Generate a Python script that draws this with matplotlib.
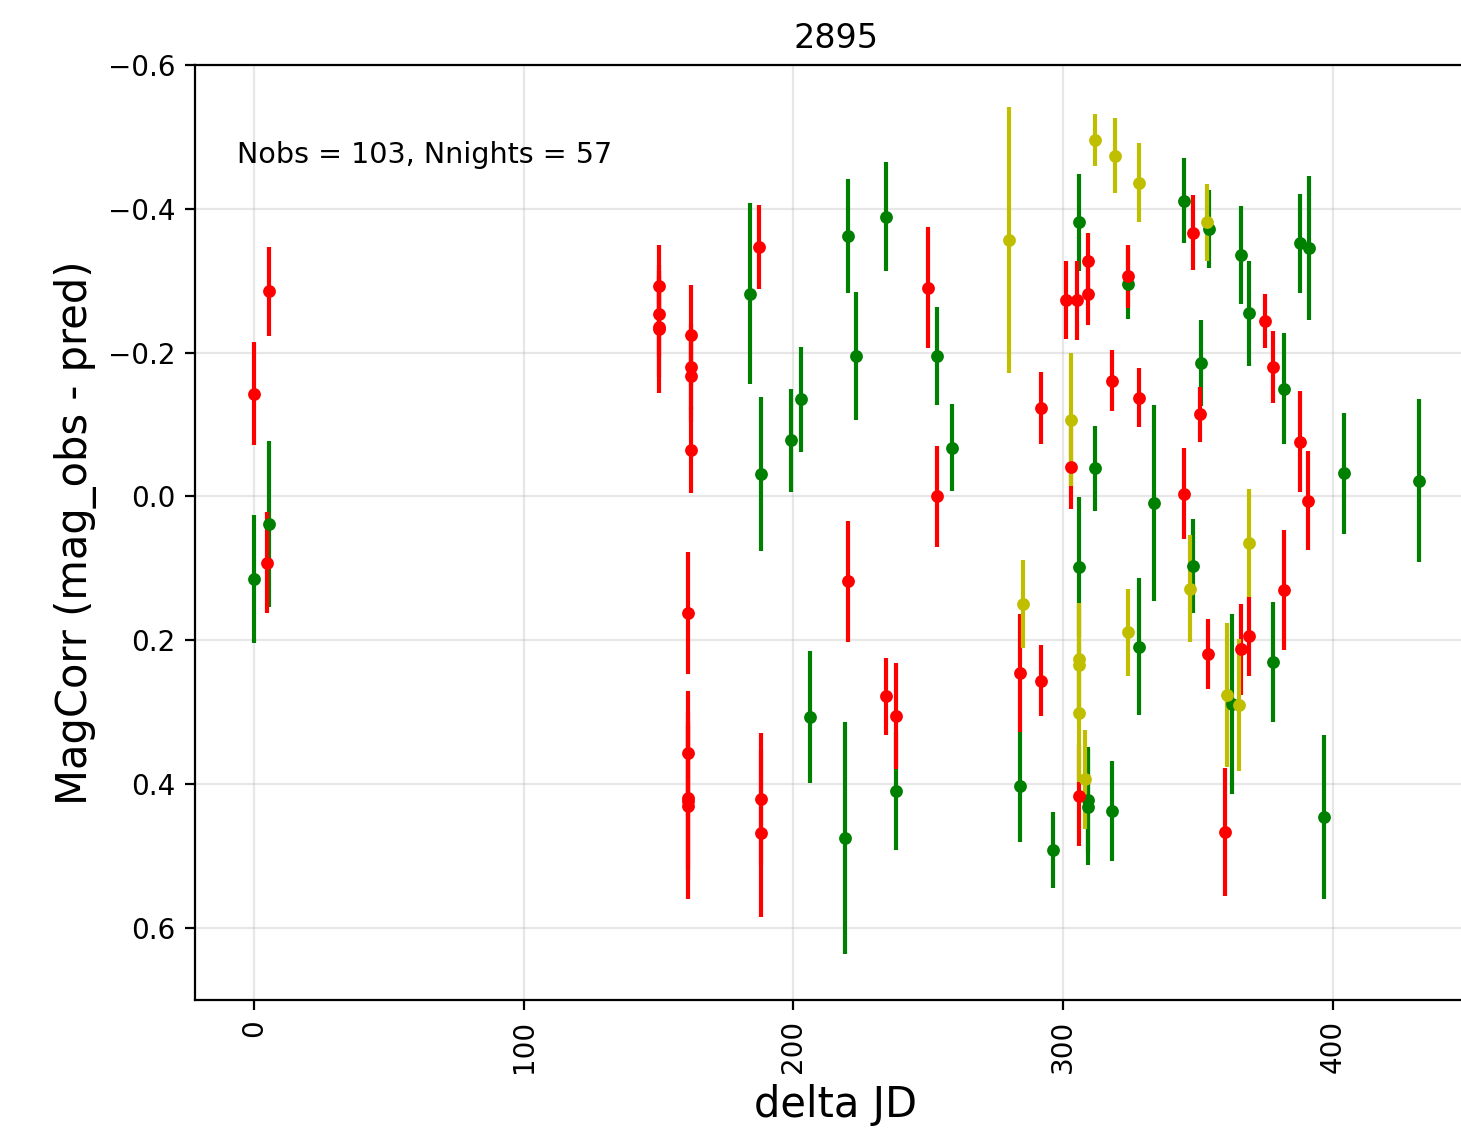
import matplotlib
matplotlib.use("Agg")
import matplotlib.pyplot as plt

# green points: delta JD, MagCorr, error
g_jd = [0.0, 5.8, 184.0, 188.2, 199.2, 203.0, 206.1, 219.1, 220.2, 223.2,
        234.3, 238.1, 253.1, 259.0, 284.1, 296.1, 306.0, 306.0, 309.1, 309.1,
        312.0, 318.1, 323.9, 328.1, 333.9, 344.8, 348.0, 351.1, 354.0, 362.7,
        365.8, 369.0, 377.9, 382.0, 387.9, 391.1, 396.9, 404.0, 431.8]
g_mag = [0.115, 0.038, -0.282, -0.031, -0.078, -0.135, 0.307, 0.475, -0.362, -0.195,
         -0.389, 0.409, -0.195, -0.068, 0.403, 0.492, -0.381, 0.098, 0.422, 0.432,
         -0.039, 0.4375, -0.296, 0.209, 0.009, -0.411, 0.097, -0.186, -0.372, 0.289,
         -0.336, -0.255, 0.230, -0.150, -0.352, -0.346, 0.445, -0.032, -0.022]
g_err = [0.089, 0.115, 0.126, 0.107, 0.072, 0.073, 0.092, 0.161, 0.079, 0.089,
         0.076, 0.082, 0.068, 0.061, 0.078, 0.053, 0.068, 0.097, 0.073, 0.081,
         0.059, 0.070, 0.049, 0.095, 0.136, 0.059, 0.065, 0.060, 0.054, 0.125,
         0.068, 0.073, 0.083, 0.077, 0.069, 0.100, 0.114, 0.084, 0.113]

# red points
r_jd = [0.0, 4.7, 5.7, 150.1, 150.1, 150.1, 150.1, 161.1, 161.1, 161.1,
        161.1, 161.1, 162.1, 162.1, 162.1, 162.1, 187.1, 188.2, 188.2, 220.2,
        234.3, 238.1, 250.0, 253.1, 284.1, 292.0, 292.0, 301.0, 302.9, 305.1,
        306.0, 309.1, 309.1, 318.2, 323.9, 328.1, 344.8, 348.0, 350.7, 353.9,
        360.1, 365.8, 368.8, 374.9, 378.0, 382.0, 387.9, 391.0]
r_mag = [-0.143, 0.092, -0.285, -0.293, -0.254, -0.236, -0.233, 0.162, 0.357, 0.419,
         0.423, 0.430, -0.224, -0.180, -0.168, -0.065, -0.347, 0.421, 0.468, 0.118,
         0.278, 0.305, -0.290, 0.000, 0.245, -0.123, 0.256, -0.273, -0.041, -0.273,
         0.416, -0.327, -0.282, -0.161, -0.306, -0.137, -0.004, -0.367, -0.114, 0.219,
         0.466, 0.2125, 0.194, -0.244, -0.180, 0.130, -0.076, 0.006]
r_err = [0.072, 0.070, 0.0625, 0.056, 0.060, 0.070, 0.089, 0.085, 0.087, 0.100,
         0.110, 0.130, 0.070, 0.060, 0.065, 0.060, 0.058, 0.092, 0.116, 0.084,
         0.054, 0.074, 0.084, 0.070, 0.082, 0.050, 0.049, 0.054, 0.058, 0.055,
         0.070, 0.040, 0.044, 0.042, 0.044, 0.041, 0.063, 0.052, 0.038, 0.049,
         0.089, 0.063, 0.056, 0.037, 0.050, 0.084, 0.070, 0.069]

# yellow points
y_jd = [280.0, 285.1, 302.9, 306.0, 306.0, 306.0, 308.3, 312.0, 319.1, 323.9,
        328.1, 347.0, 353.2, 360.9, 365.2, 368.8]
y_mag = [-0.357, 0.149, -0.107, 0.226, 0.234, 0.301, 0.393, -0.496, -0.474, 0.189,
         -0.436, 0.128, -0.381, 0.276, 0.290, 0.065]
y_err = [0.185, 0.061, 0.092, 0.078, 0.080, 0.096, 0.069, 0.036, 0.052, 0.061,
         0.055, 0.074, 0.053, 0.100, 0.092, 0.075]

nobs = len(g_jd) + len(r_jd) + len(y_jd)
nnights = 57

fig = plt.figure(figsize=(1461 / 200, 1129 / 200), dpi=200)
ax = fig.add_axes([0.1335, 0.1143, 0.8775, 0.8282])

for jd, mag, err, c in [(g_jd, g_mag, g_err, 'g'),
                        (r_jd, r_mag, r_err, 'r'),
                        (y_jd, y_mag, y_err, 'y')]:
    ax.errorbar(jd, mag, yerr=err, fmt='o', color=c, ms=3.6, elinewidth=1.5)

ax.set_xlim(-21.8, 453.5)
ax.set_ylim(0.7, -0.6)
ax.grid(True, alpha=0.3)
ax.tick_params(axis='x', labelrotation=90)
ax.text(0.033, 0.904, f"Nobs = {nobs}, Nnights = {nnights}",
        transform=ax.transAxes, va='center', fontsize=10.3)
ax.set_title("2895", fontsize=12)
ax.set_xlabel("delta JD", fontsize=15)
ax.set_ylabel("MagCorr (mag_obs - pred)", fontsize=15)

fig.savefig("out.png", dpi=200)
